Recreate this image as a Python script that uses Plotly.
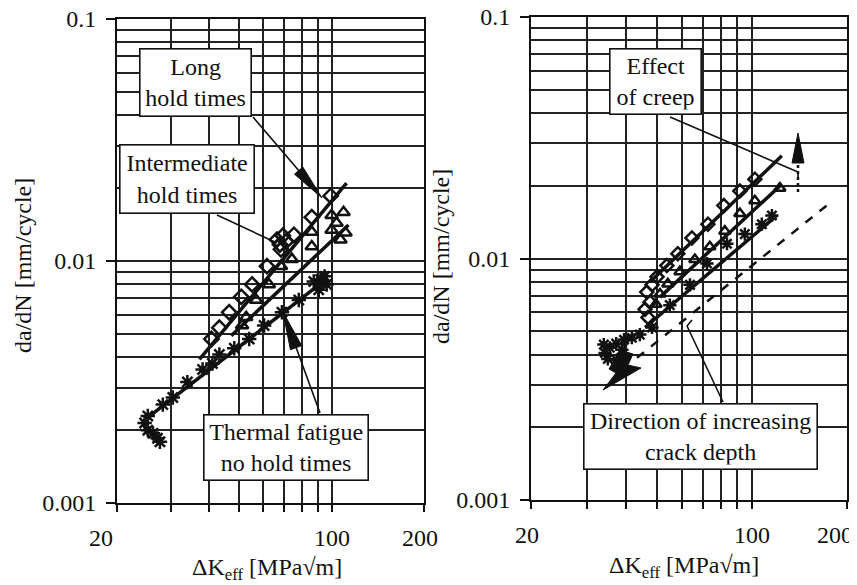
import math
import plotly.graph_objects as go

# The page body has an 8px margin, so the figure is drawn 8px smaller and
# every pixel position below is measured in the 857x585 window.
OFF = 8
W, H = 857 - OFF, 585 - OFF
FONT = "Liberation Serif, Times New Roman, serif"
INK = "#111111"

# ---------------- data ----------------
# left panel
L_LONG_X = [99.3, 86.2, 75.4, 68.4, 61.6, 55.1, 50.8, 46.4, 43.1, 40.6, 66.4, 69.4, 67.9, 71.0]
L_LONG_Y = [0.01858, 0.01517, 0.01283, 0.01117, 0.00952, 0.00800, 0.00711, 0.00614, 0.00530, 0.00476,
            0.01225, 0.01272, 0.01170, 0.01203]
L_INT_X = [100.0, 109.4, 100.0, 111.0, 103.8, 106.9, 86.2, 86.2, 74.2, 68.4, 62.5, 56.8, 52.7, 51.1]
L_INT_Y = [0.01545, 0.01589, 0.01344, 0.01307, 0.01435, 0.01225, 0.01318, 0.01148, 0.01018, 0.00952,
           0.00800, 0.00690, 0.00585, 0.00541]
L_TF_X = [27.6, 27.1, 26.2, 25.2, 24.6, 25.2, 28.2, 30.4, 33.9, 38.0, 40.9, 43.1, 48.2, 53.9, 60.3,
          68.9, 78.2, 87.5, 92.1, 96.4, 90.8, 94.9]
L_TF_Y = [0.00179, 0.00185, 0.00194, 0.00200, 0.00214, 0.00229, 0.00255, 0.00273, 0.00316, 0.00356,
          0.00377, 0.00411, 0.00436, 0.00476, 0.00541, 0.00614, 0.00690, 0.00823, 0.00839, 0.00800,
          0.00761, 0.00864]
L_LONG_FIT_X = [37.1, 111.9]
L_LONG_FIT_Y = [0.00392, 0.0210]
L_INT_FIT_X = [47.1, 113.5]
L_INT_FIT_Y = [0.00491, 0.01409]
L_TF_FIT_X = [25.6, 89.4]
L_TF_FIT_Y = [0.00229, 0.00783]

# right panel
R_D_X = [102.2, 91.6, 81.5, 72.6, 64.6, 58.3, 53.8, 50.1, 48.3, 46.5, 47.6, 45.9, 46.9]
R_D_Y = [0.02130, 0.01903, 0.01656, 0.01387, 0.01216, 0.01047, 0.00935, 0.00840, 0.00778, 0.00726,
         0.00659, 0.00616, 0.00570]
R_T_X = [122.6, 102.2, 91.6, 82.1, 73.6, 66.0, 59.2, 54.2, 51.2, 49.7]
R_T_Y = [0.01956, 0.01734, 0.01536, 0.01298, 0.01118, 0.00990, 0.00882, 0.00785, 0.00713, 0.00647]
R_S_X = [115.7, 107.5, 95.0, 83.4, 72.1, 63.7, 55.0, 48.3, 44.2, 41.7, 39.4, 37.2, 35.5, 34.3, 35.0,
         37.4, 38.8, 34.0]
R_S_Y = [0.01507, 0.01387, 0.01262, 0.01151, 0.00953, 0.00778, 0.00641, 0.00518, 0.00484, 0.00470,
         0.00461, 0.00444, 0.00427, 0.00406, 0.00384, 0.00380, 0.00419, 0.00440]
R_D_FIT_X = [47.6, 124.4]
R_D_FIT_Y = [0.00800, 0.02661]
R_T_FIT_X = [51.2, 124.4]
R_T_FIT_Y = [0.00692, 0.02032]
R_S_FIT_X = [45.9, 120.0]
R_S_FIT_Y = [0.00518, 0.01507]
R_DASH_X = [43.3, 173.9]
R_DASH_Y = [0.00388, 0.01671]

# axis ticks; the x labels are written as annotations at their tick values
X_TICKS = [20, 30, 40, 50, 60, 70, 80, 90, 100, 200]
X_LABEL_VALS = [20, 100, 200]
X_LABEL_TEXT = ["20", "100", "200"]
X_LABEL_SHIFT_L = [-16, 0, -4]   # pixel nudges as printed in the original
X_LABEL_SHIFT_R = [-4, 0, -12]
Y_TICKS = [0.001, 0.01, 0.1]
Y_TEXT = ["0.001", "0.01", "0.1"]
Y_MINOR = [m * d for d in (0.001, 0.01) for m in range(2, 10)]

X_TITLE = "ΔK<sub>eff</sub> [MPa√m]"
Y_TITLE = "da/dN [mm/cycle]"


def px(x):
    return (x - OFF) / W


def py(y):
    return 1 - (y - OFF) / H


fig = go.Figure()

line_style = dict(color=INK, width=3.5)


def add_panel(xa, ya, fits, series):
    for fx, fy in fits:
        fig.add_trace(go.Scatter(x=fx, y=fy, mode="lines", line=line_style,
                                 xaxis=xa, yaxis=ya, showlegend=False, hoverinfo="skip"))
    for sx, sy, sym, size in series:
        fig.add_trace(go.Scatter(x=sx, y=sy, mode="markers",
                                 marker=dict(symbol=sym, size=size, color=INK,
                                             line=dict(color=INK, width=2.5)),
                                 xaxis=xa, yaxis=ya, showlegend=False, hoverinfo="skip"))


add_panel("x", "y",
          [(L_LONG_FIT_X, L_LONG_FIT_Y), (L_INT_FIT_X, L_INT_FIT_Y), (L_TF_FIT_X, L_TF_FIT_Y)],
          [(L_LONG_X, L_LONG_Y, "diamond-open", 11),
           (L_INT_X, L_INT_Y, "triangle-up-open", 11),
           (L_TF_X, L_TF_Y, "asterisk-open", 12)])
add_panel("x2", "y2",
          [(R_D_FIT_X, R_D_FIT_Y), (R_T_FIT_X, R_T_FIT_Y), (R_S_FIT_X, R_S_FIT_Y)],
          [(R_D_X, R_D_Y, "diamond-open", 10),
           (R_T_X, R_T_Y, "triangle-up-open", 10),
           (R_S_X, R_S_Y, "asterisk-open", 11)])
fig.add_trace(go.Scatter(x=R_DASH_X, y=R_DASH_Y, mode="lines",
                         line=dict(color=INK, width=2.5, dash="dash"),
                         xaxis="x2", yaxis="y2", showlegend=False, hoverinfo="skip"))

tickfont = dict(family=FONT, size=24, color=INK)
common_x = dict(type="log", range=[math.log10(20), math.log10(200)], tickmode="array",
                tickvals=X_TICKS, ticktext=[""] * len(X_TICKS), showticklabels=False,
                ticks="outside", ticklen=7, tickwidth=1.5, tickcolor=INK,
                showgrid=True, gridcolor="#222222", gridwidth=1.6, showline=True, mirror=True,
                linecolor=INK, linewidth=2, zeroline=False, automargin=False)
common_y = dict(type="log", range=[-3, -1], tickmode="array", tickvals=Y_TICKS, ticktext=Y_TEXT,
                ticks="outside", ticklen=9, tickwidth=1.5, tickcolor=INK,
                showgrid=True, gridcolor="#222222", gridwidth=1.6, showline=True, mirror=True,
                linecolor=INK, linewidth=2, tickfont=tickfont, zeroline=False,
                ticklabelstandoff=5, automargin=False, ticklabeloverflow="allow",
                minor=dict(tickmode="array", tickvals=Y_MINOR, showgrid=True,
                           gridcolor="#222222", gridwidth=1.6, ticks=""))

fig.update_layout(
    width=W, height=H, margin=dict(l=0, r=0, t=0, b=0, autoexpand=False),
    paper_bgcolor="white", plot_bgcolor="white", showlegend=False,
    xaxis=dict(common_x, domain=[px(117), px(424)], anchor="y"),
    yaxis=dict(common_y, domain=[py(503), py(19)], anchor="x"),
    xaxis2=dict(common_x, domain=[px(531), px(847)], anchor="y2"),
    yaxis2=dict(common_y, domain=[py(500), py(17)], anchor="x2"),
)

# --- leader lines and arrowheads (pixel positions -> paper) ---
shapes = []


def seg(x0, y0, x1, y1, width=1.6, dash=None):
    d = dict(type="line", xref="paper", yref="paper", x0=px(x0), y0=py(y0), x1=px(x1), y1=py(y1),
             line=dict(color=INK, width=width))
    if dash:
        d["line"]["dash"] = dash
    shapes.append(d)


def head(tip, tail, length, width):
    dx, dy = tail[0] - tip[0], tail[1] - tip[1]
    n = math.hypot(dx, dy)
    ux, uy = dx / n, dy / n
    bx, by = tip[0] + ux * length, tip[1] + uy * length
    qx, qy = -uy * width / 2, ux * width / 2
    pts = [tip, (bx + qx, by + qy), (bx - qx, by - qy)]
    path = "M " + " L ".join(f"{px(a):.5f},{py(b):.5f}" for a, b in pts) + " Z"
    shapes.append(dict(type="path", xref="paper", yref="paper", path=path,
                       fillcolor=INK, line=dict(color=INK, width=1)))


def poly(pts):
    path = "M " + " L ".join(f"{px(a):.5f},{py(b):.5f}" for a, b in pts) + " Z"
    shapes.append(dict(type="path", xref="paper", yref="paper", path=path,
                       fillcolor=INK, line=dict(color=INK, width=1)))


# left panel
seg(253, 117, 312, 186)
head((322, 198), (253, 117), 36, 11)
seg(217, 215, 277, 243)
seg(320, 413, 289, 328)
head((283, 312), (320, 413), 38, 12)
# right panel
seg(670, 117, 798, 172)
seg(798, 172, 798, 177)
seg(798, 192, 798, 160, width=2.5, dash="dot")
head((798, 133), (798, 170), 30, 12)
seg(723, 402, 687, 326)
seg(687, 326, 692, 320)
poly([(620, 350), (633, 354), (628, 365), (641, 368), (603, 390), (616, 373), (609, 369)])

fig.update_layout(shapes=shapes)

# --- boxed labels ---
annots = []


def box(text, cx, cy, w, h):
    annots.append(dict(text=text, xref="paper", yref="paper", x=px(cx), y=py(cy),
                       xanchor="center", yanchor="middle", showarrow=False,
                       font=dict(family=FONT, size=24, color=INK),
                       bgcolor="white", bordercolor=INK, borderwidth=1.6, borderpad=4,
                       width=w - 12, height=h - 12, align="center"))


box("Long<br>hold times", 195, 82, 114, 70)
box("Intermediate<br>hold times", 186.5, 179.5, 137, 71)
box("Thermal fatigue<br>no hold times", 285.5, 447, 167, 68)
box("Effect<br>of creep", 655, 81, 94, 68)
box("Direction of increasing<br>crack depth", 700, 436, 236, 68)

# x tick labels, placed at their tick values on each x axis
for xref, ycen, shifts in [("x", 538, X_LABEL_SHIFT_L), ("x2", 535, X_LABEL_SHIFT_R)]:
    for v, t, s in zip(X_LABEL_VALS, X_LABEL_TEXT, shifts):
        annots.append(dict(text=t, xref=xref, yref="paper", x=math.log10(v), y=py(ycen),
                           xanchor="center", yanchor="middle", xshift=s, showarrow=False,
                           font=tickfont))

# axis titles
for cx, cy in [(267, 569), (684, 567)]:
    annots.append(dict(text=X_TITLE, xref="paper", yref="paper", x=px(cx), y=py(cy),
                       xanchor="center", yanchor="middle", showarrow=False,
                       font=dict(family=FONT, size=24, color=INK)))
for cx, cy in [(23, 266), (441, 256)]:
    annots.append(dict(text=Y_TITLE, xref="paper", yref="paper", x=px(cx), y=py(cy),
                       xanchor="center", yanchor="middle", showarrow=False, textangle=-90,
                       font=dict(family=FONT, size=24, color=INK)))

fig.update_layout(annotations=annots)

fig.write_html("out.html")
